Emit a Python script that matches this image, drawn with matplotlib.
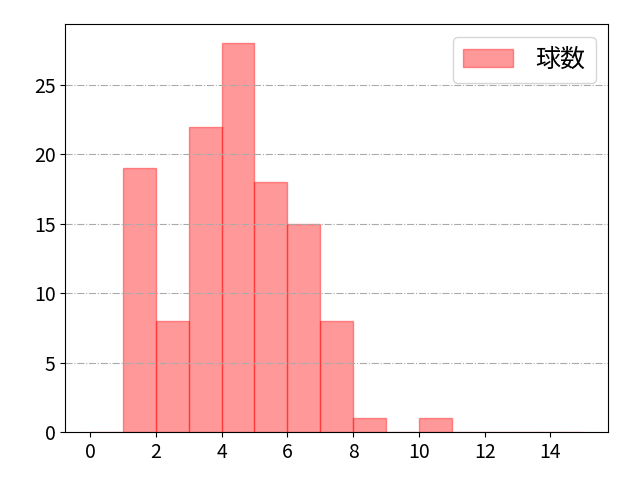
import numpy as np
import matplotlib
matplotlib.use("Agg")
from matplotlib import pyplot as plt

plt.rcParams['font.family'] = ['Noto Sans CJK JP', 'DejaVu Sans']
plt.rcParams['font.size'] = 14

# histogram bins (width 1) and counts
bin_edges = list(range(0, 16))
counts = [0, 19, 8, 22, 28, 18, 15, 8, 1, 0, 1, 0, 0, 0, 0]
label = "球数"

fig = plt.figure(figsize=(6.4, 4.8), dpi=100, facecolor='w')
ax = fig.add_axes([0.102, 0.1, 0.848, 0.85])
ax.hist(bin_edges[:-1], bins=bin_edges, weights=counts, color='red', alpha=0.4,
        edgecolor='red', linewidth=1, label=label)
ax.grid(axis='y', linestyle='-.', color='#aaaaaa', linewidth=0.8)
ax.set_xticks(range(0, 15, 2))
ax.legend(loc='upper right', fontsize=18, handletextpad=0.9)
fig.savefig("out.png", dpi=100)
